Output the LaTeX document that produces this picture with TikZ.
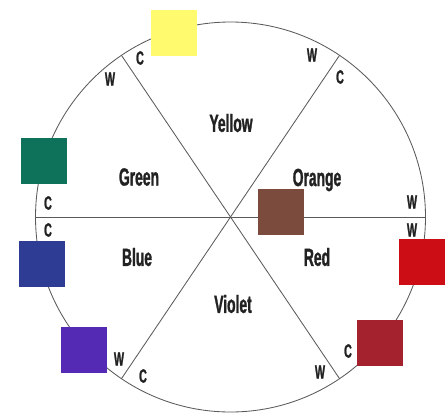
\documentclass[tikz,border=0pt]{standalone}
\usepackage{fontspec}
\setmainfont{Liberation Sans}[FakeStretch=0.56,BoldFeatures={FakeBold=1.2}]
\usepackage{tikz}
\usetikzlibrary{positioning}
\usepackage{xcolor}
\definecolor{WheelLine}{HTML}{5A5A5A}
\definecolor{LabelText}{HTML}{222222}
\definecolor{SwYellow}{HTML}{FFFA6E}
\definecolor{SwGreen}{HTML}{0E725A}
\definecolor{SwBlue}{HTML}{2F3C94}
\definecolor{SwViolet}{HTML}{5429B3}
\definecolor{SwDarkRed}{HTML}{A3222E}
\definecolor{SwRed}{HTML}{CC0D16}
\definecolor{SwBrown}{HTML}{7B4C3E}
\tikzset{
  wheelline/.style={draw=WheelLine,line width=0.6pt},
  swatch/.style={minimum size=1.15cm,inner sep=0pt,draw=none},
  sectorlabel/.style={text=LabelText,font=\bfseries\fontsize{17.6}{20}\selectfont,inner sep=0pt},
  cwlabel/.style={text=LabelText,font=\bfseries\fontsize{13.6}{15}\selectfont,inner sep=0pt}
}

\begin{document}
\begin{tikzpicture}
\useasboundingbox (-5.7625,-4.9) rectangle (5.3875,5.425);
% wheel and the three diameters
\draw[wheelline] (0,0) circle (4.875);
\foreach \a in {0,56,124}{
  \draw[wheelline] (\a:4.875) -- (\a+180:4.875);
}
% sector names
\foreach \name/\x/\y in {Yellow/0.0125/2.35,Green/-2.2875/1.0,Orange/2.1625/0.925,
                         Blue/-2.3375/-1.0,Red/2.1625/-1.0,Violet/0.0625/-2.175}{
  \node[sectorlabel] (lbl\name) at (\x,\y) {\name};
}
% warm / cool marks
\foreach \t/\x/\y [count=\i] in {C/-2.2625/3.975,W/-3.0125/3.45,W/2.0375/4.05,C/2.7375/3.5,
                                 C/-4.5625/0.35,C/-4.5625/-0.325,W/4.5375/0.375,W/4.5375/-0.325,
                                 W/-2.7875/-3.55,C/-2.1875/-3.975,W/2.2375/-3.875,C/2.9375/-3.35}{
  \node[cwlabel] (mark\i) at (\x,\y) {\t};
}
% colour swatches
\foreach \name/\x/\y in {Yellow/-1.4125/4.6,Green/-4.6625/1.4,Blue/-4.7125/-1.1625,
                         Violet/-3.6625/-3.3125,DarkRed/3.725/-3.1375,Red/4.775/-1.125,
                         Brown/1.25/0.1375}{
  \node[swatch,fill=Sw\name] (sw\name) at (\x,\y) {};
}
\end{tikzpicture}
\end{document}
